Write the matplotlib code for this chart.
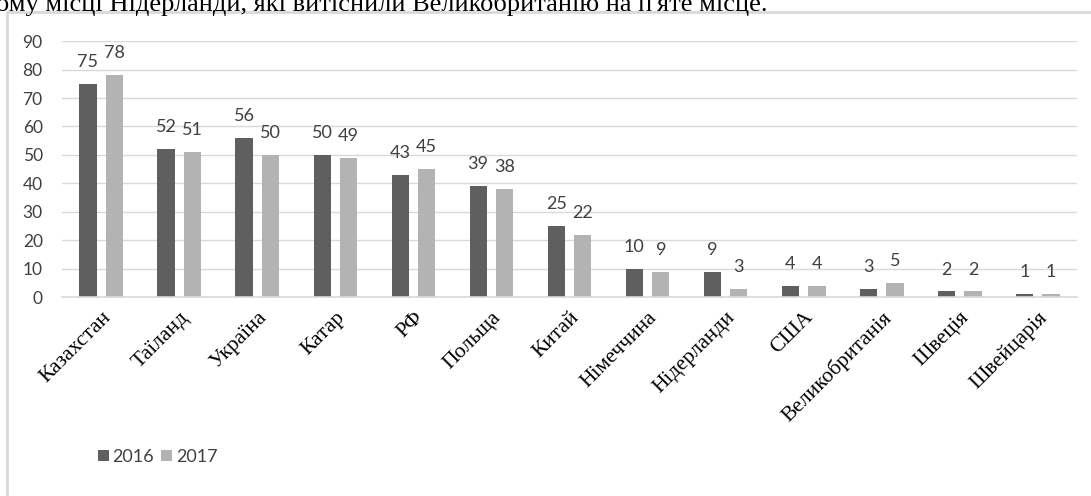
import numpy as np
import matplotlib.pyplot as plt
from matplotlib.patches import Rectangle

# дані
countries = ['Казахстан', 'Таїланд', 'Україна', 'Катар', 'РФ', 'Польща', 'Китай',
             'Німеччина', 'Нідерланди', 'США', 'Великобританія', 'Швеція', 'Швейцарія']
v2016 = [75, 52, 56, 50, 43, 39, 25, 10, 9, 4, 3, 2, 1]
v2017 = [78, 51, 50, 49, 45, 38, 22, 9, 3, 4, 5, 2, 1]
years = ['2016', '2017']

c16 = '#5f5f5f'
c17 = '#b3b3b3'
grid_c = '#d9d9d9'

fig = plt.figure(figsize=(10.91, 4.96), dpi=100)

# текст над діаграмою (обрізаний зверху)
fig.text(-0.004, 0.977, "ому місці Нідерланди, які витіснили Великобританію на п'яте місце.",
         family='Liberation Serif', fontsize=19, va='baseline', ha='left')

# рамка діаграми
fig.patches.append(Rectangle((0.0065, -0.1), 1.2, 1.076, transform=fig.transFigure,
                             fill=False, edgecolor=grid_c, linewidth=2, clip_on=False))

ax = fig.add_axes([0.057, 0.401, 0.930, 0.516])

x = np.arange(len(countries))
w = 0.22
off = 0.17
b1 = ax.bar(x - off, v2016, w, color=c16, label=years[0])
b2 = ax.bar(x + off, v2017, w, color=c17, label=years[1])

for bars, vals in ((b1, v2016), (b2, v2017)):
    for r, v in zip(bars, vals):
        ax.annotate(str(v), (r.get_x() + r.get_width() / 2, v), xytext=(0, 10),
                    textcoords='offset points', ha='center', va='bottom',
                    family='Lato', fontsize=13, color='#404040')

ax.set_xlim(-0.5, len(countries) - 0.5)
ax.set_ylim(0, 90)
ax.set_yticks(range(0, 91, 10))
ax.yaxis.grid(True, color=grid_c, linewidth=1)
ax.set_axisbelow(True)
for s in ('top', 'right', 'left'):
    ax.spines[s].set_visible(False)
ax.spines['bottom'].set_color(grid_c)
ax.spines['bottom'].set_linewidth(1.2)
ax.tick_params(length=0)
ax.tick_params(axis='y', pad=14, labelsize=12.5, labelcolor='#404040')
for t in ax.get_yticklabels():
    t.set_family('Lato')

ax.set_xticks(x)
ax.set_xticklabels(countries, rotation=45, ha='right', rotation_mode='anchor',
                   family='Liberation Serif', fontsize=15.5)
ax.tick_params(axis='x', pad=8)

leg = fig.legend(loc='lower left', bbox_to_anchor=(0.075, 0.03), ncol=2, frameon=False,
                 handlelength=0.6, handleheight=0.6, handletextpad=0.2, columnspacing=0.4,
                 prop={'family': 'Lato', 'size': 13})
for t in leg.get_texts():
    t.set_color('#404040')

fig.savefig('out.png', dpi=100)
